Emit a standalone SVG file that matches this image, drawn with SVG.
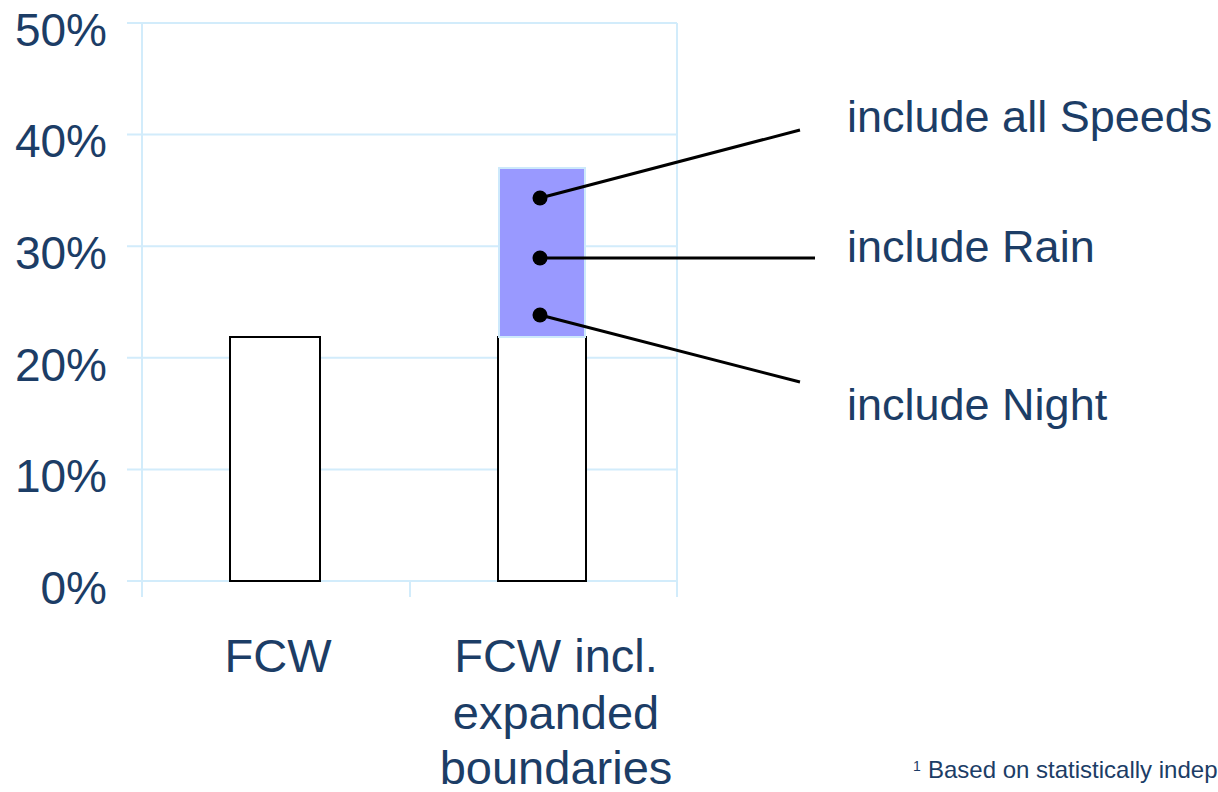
<svg xmlns="http://www.w3.org/2000/svg" width="1218" height="792" viewBox="0 0 1218 792">
<style>
.t{font-family:"Liberation Sans",Arial,sans-serif;fill:#1c3d66}
.ax{font-size:46px;text-anchor:end}
.cat{font-size:47px;text-anchor:middle}
.lbl{font-size:45px}
.g{stroke:#d2ecfb;stroke-width:2;fill:none}
.bar{fill:#fff;stroke:#000;stroke-width:2}
.ld{stroke:#000;stroke-width:3;fill:none}
</style>
<rect width="1218" height="792" fill="#fff"/>
<g id="grid">
<path class="g" d="M127 23H677M127 134.6H677M127 246.2H677M127 357.8H677M127 469.4H677M127 581H677M142 23V597M410 581V597M677 23V597"/>
</g>
<g id="axis-labels" class="t ax">
<text x="107" y="46">50%</text>
<text x="107" y="157">40%</text>
<text x="107" y="269">30%</text>
<text x="107" y="381">20%</text>
<text x="107" y="492">10%</text>
<text x="107" y="604">0%</text>
</g>
<g id="bar-fcw">
<rect class="bar" x="230" y="337" width="90" height="244"/>
<text class="t cat" x="278" y="672">FCW</text>
</g>
<g id="bar-fcw-expanded">
<rect class="bar" x="498" y="337" width="88" height="244"/>
<rect x="499" y="168" width="86" height="169" fill="#9999ff" stroke="#cde9fb" stroke-width="2"/>
<text class="t cat" x="556" y="672">FCW incl.</text>
<text class="t cat" x="556" y="729">expanded</text>
<text class="t cat" x="556" y="784">boundaries</text>
</g>
<g id="connectors">
<path class="ld" d="M540 198L800 130M540 258H815M540 315L800 382"/>
<circle cx="540" cy="198" r="7.5"/>
<circle cx="540" cy="258" r="7.5"/>
<circle cx="540" cy="315" r="7.5"/>
</g>
<g id="label-speeds"><text class="t lbl" x="847" y="132">include all Speeds</text></g>
<g id="label-rain"><text class="t lbl" x="847" y="262">include Rain</text></g>
<g id="label-night"><text class="t lbl" x="847" y="420">include Night</text></g>
<g id="footnote" class="t">
<text x="913" y="771" font-size="14">1</text>
<text x="928" y="778" font-size="24">Based on statistically independent</text>
</g>
</svg>
